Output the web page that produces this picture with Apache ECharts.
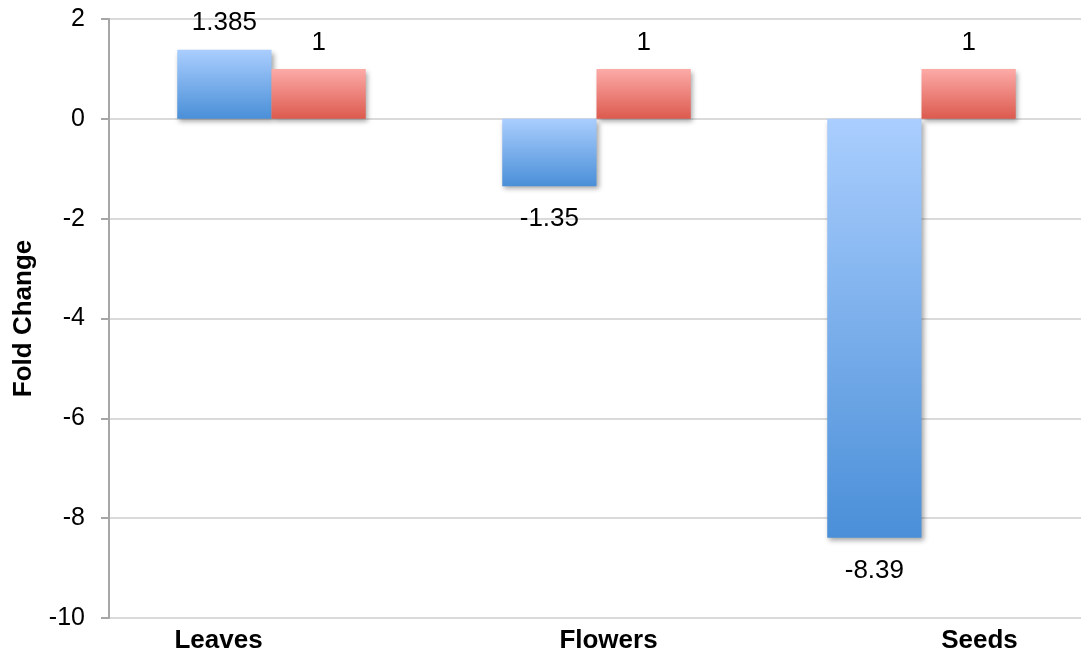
<!DOCTYPE html>
<html>
<head>
<meta charset="utf-8">
<script src="https://cdn.jsdelivr.net/npm/echarts@6/dist/echarts.min.js"></script>
<style>
  html, body { margin: 0; padding: 0; background: #fff; }
  #chart { width: 1081px; height: 654px; }
</style>
</head>
<body>
<div id="chart"></div>
<script>
// Tissues and fold-change values
const categories = ['Leaves', 'Flowers', 'Seeds'];
const sampleValues = [1.385, -1.35, -8.39];
const controlValues = [1, 1, 1];

const FONT = '"Liberation Sans", Arial, Helvetica, sans-serif';

// Horizontal nudge (px) of each category label away from its slot centre
const labelNudge = { Leaves: -53, Flowers: 12, Seeds: 58 };

function gradient(top, bottom) {
  return new echarts.graphic.LinearGradient(0, 0, 0, 1, [
    { offset: 0, color: top },
    { offset: 1, color: bottom }
  ]);
}

// Labels sit outside the bar end: above positive bars, below negative ones
function withLabels(values) {
  return values.map(v => ({
    value: v,
    label: v < 0 ? { position: 'bottom', distance: 20 } : { position: 'top', distance: 13.5 }
  }));
}

const labelStyle = {
  show: true,
  color: '#000',
  fontFamily: FONT,
  fontSize: 26
};

const shadow = {
  shadowColor: 'rgba(0,0,0,0.35)',
  shadowBlur: 5,
  shadowOffsetX: 2,
  shadowOffsetY: 3
};

const catRich = {};
categories.forEach((c, i) => {
  const n = labelNudge[c] || 0;
  catRich['c' + i] = {
    color: '#000',
    fontFamily: FONT,
    fontSize: 26,
    fontWeight: 'bold',
    padding: n >= 0 ? [0, 0, 0, 2 * n] : [0, -2 * n, 0, 0]
  };
});

const chart = echarts.init(document.getElementById('chart'), null, { renderer: 'canvas' });
chart.setOption({
  animation: false,
  backgroundColor: '#fff',
  // the plot runs slightly past the right edge of the canvas
  grid: { left: 109, right: -3, top: 19, bottom: 36, containLabel: false, outerBoundsMode: 'none' },
  xAxis: {
    type: 'category',
    data: categories,
    position: 'bottom',
    axisLine: { show: false, onZero: false },
    axisTick: { show: false },
    axisLabel: {
      margin: 10,
      formatter: (v, i) => '{c' + i + '|' + v + '}',
      rich: catRich
    }
  },
  yAxis: {
    type: 'value',
    min: -10,
    max: 2,
    interval: 2,
    name: 'Fold Change',
    nameLocation: 'middle',
    nameRotate: 90,
    nameGap: 72,
    nameTextStyle: {
      color: '#000',
      fontFamily: FONT,
      fontSize: 26,
      fontWeight: 'bold'
    },
    axisLine: { show: true, lineStyle: { color: '#a6a6a6', width: 2 } },
    axisTick: { show: true, length: 8, lineStyle: { color: '#a6a6a6', width: 2 } },
    axisLabel: {
      color: '#000',
      fontFamily: FONT,
      fontSize: 25,
      margin: 24
    },
    splitLine: { show: true, lineStyle: { color: '#dadada', width: 2 } }
  },
  series: [
    {
      type: 'bar',
      data: withLabels(sampleValues),
      barGap: '0%',
      barCategoryGap: '42%',
      itemStyle: Object.assign({ color: gradient('#aacefe', '#4a8fd8') }, shadow),
      label: labelStyle
    },
    {
      type: 'bar',
      data: withLabels(controlValues),
      barGap: '0%',
      barCategoryGap: '42%',
      itemStyle: Object.assign({ color: gradient('#fdaba8', '#dc5a4e') }, shadow),
      label: labelStyle
    }
  ]
});
</script>
</body>
</html>
